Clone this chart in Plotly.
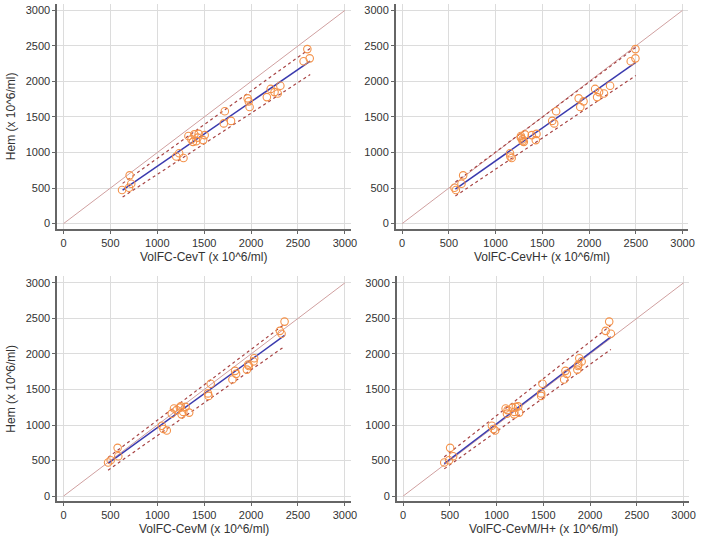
import plotly.graph_objects as go

# ---------------- data ----------------
hem = [473, 505, 560, 679, 922, 945, 990, 1150, 1160, 1175, 1185, 1210, 1232, 1245, 1255,
       1262, 1410, 1445, 1580, 1640, 1720, 1762, 1780, 1830, 1850, 1895, 1940, 2285, 2325, 2455]

cev_t = [624, 698, 722, 705, 1279, 1202, 1233, 1380, 1415, 1489, 1364, 1430, 1332, 1505, 1395,
         1441, 1709, 1786, 1720, 1984, 1975, 1963, 2168, 2284, 2250, 2209, 2312, 2560, 2625, 2600]

cev_hplus = [575, 560, 635, 653, 1172, 1158, 1154, 1302, 1290, 1430, 1288, 1270, 1271, 1387, 1313,
             1437, 1627, 1606, 1648, 1906, 1941, 1889, 2086, 2160, 2107, 2065, 2225, 2446, 2496, 2496]

cev_m = [475, 503, 584, 577, 1101, 1066, 1048, 1259, 1154, 1340, 1277, 1206, 1178, 1241, 1301,
         1250, 1547, 1540, 1569, 1801, 1840, 1829, 1955, 1975, 1969, 2026, 2033, 2325, 2307, 2357]

cev_mhplus = [440, 492, 535, 503, 985, 967, 950, 1189, 1111, 1242, 1190, 1118, 1097, 1171, 1206,
              1231, 1477, 1477, 1491, 1723, 1752, 1737, 1864, 1870, 1875, 1910, 1885, 2223, 2167, 2205]

x_labels = ["VolFC-CevT (x 10^6/ml)", "VolFC-CevH+ (x 10^6/ml)",
            "VolFC-CevM (x 10^6/ml)", "VolFC-CevM/H+ (x 10^6/ml)"]
y_label = "Hem (x 10^6/ml)"

# regression line and band end points per panel: x ends, fit y, upper y, lower y
fit_x = [[630, 2630], [570, 2500], [475, 2357], [440, 2223]]
fit_y = [[470, 2287], [485, 2270], [459, 2260], [457, 2240]]
upper_y = [[566, 2465], [584, 2480], [543, 2420], [551, 2403]]
lower_y = [[374, 2097], [388, 2083], [365, 2106], [383, 2063]]

identity = [0, 3000]
tick_vals = [0, 500, 1000, 1500, 2000, 2500, 3000]

# ---------------- figure ----------------
W, H = 708, 542
# pixel boxes of the four plot areas
px_x = [(58, 354), (400, 695), (58, 354), (401, 696)]
px_y = [(4, 229), (4, 229), (277, 502), (277, 502)]
xtitle_y = [257, 257, 530, 530]
ytitle_x = 11


def fx(p):
    return p / W


def fy(p):
    return 1 - p / H


fig = go.Figure()
xs_all = [cev_t, cev_hplus, cev_m, cev_mhplus]

for i in range(4):
    xa = "x" if i == 0 else f"x{i+1}"
    ya = "y" if i == 0 else f"y{i+1}"
    fig.add_trace(go.Scatter(x=identity, y=identity, mode="lines",
                             line=dict(color="#d0a0a0", width=1),
                             xaxis=xa, yaxis=ya, showlegend=False, hoverinfo="skip"))
    fig.add_trace(go.Scatter(x=fit_x[i], y=upper_y[i], mode="lines",
                             line=dict(color="#a84444", width=1.2, dash="dot"),
                             xaxis=xa, yaxis=ya, showlegend=False, hoverinfo="skip"))
    fig.add_trace(go.Scatter(x=fit_x[i], y=lower_y[i], mode="lines",
                             line=dict(color="#a84444", width=1.2, dash="dot"),
                             xaxis=xa, yaxis=ya, showlegend=False, hoverinfo="skip"))
    fig.add_trace(go.Scatter(x=fit_x[i], y=fit_y[i], mode="lines",
                             line=dict(color="#3a3aae", width=1.5),
                             xaxis=xa, yaxis=ya, showlegend=False, hoverinfo="skip"))
    fig.add_trace(go.Scatter(x=xs_all[i], y=hem, mode="markers",
                             marker=dict(symbol="circle-open", size=7.5,
                                         color="#f4924a", line=dict(width=1.1)),
                             xaxis=xa, yaxis=ya, showlegend=False))

FONT = "Liberation Sans, Arial, sans-serif"
font_tick = dict(family=FONT, size=11, color="#333333")
font_title = dict(family=FONT, size=12, color="#333333")

layout = dict(width=W, height=H, margin=dict(l=0, r=0, t=0, b=0),
              plot_bgcolor="white", paper_bgcolor="white")

annotations = []
for i in range(4):
    xk = "xaxis" if i == 0 else f"xaxis{i+1}"
    yk = "yaxis" if i == 0 else f"yaxis{i+1}"
    ya = "y" if i == 0 else f"y{i+1}"
    xa = "x" if i == 0 else f"x{i+1}"
    x0, x1 = px_x[i]
    y0, y1 = px_y[i]
    layout[xk] = dict(domain=[fx(x0), fx(x1)], anchor=ya, range=[-65, 3060],
                      tickvals=tick_vals, showgrid=True, gridcolor="#dcdcdc", gridwidth=1,
                      zeroline=False, showline=True, linecolor="#666666", linewidth=2,
                      ticks="outside", ticklen=3, tickcolor="#666666", tickfont=font_tick,
                      ticklabeloverflow="allow")
    layout[yk] = dict(domain=[fy(y1), fy(y0)], anchor=xa, range=[-70, 3090],
                      tickvals=tick_vals, showgrid=True, gridcolor="#dcdcdc", gridwidth=1,
                      zeroline=False, showline=True, linecolor="#666666", linewidth=2,
                      ticks="outside", ticklen=3, tickcolor="#666666", tickfont=font_tick,
                      ticklabeloverflow="allow")
    annotations.append(dict(text=x_labels[i], xref="paper", yref="paper",
                            x=fx((x0 + x1) / 2), y=fy(xtitle_y[i]),
                            xanchor="center", yanchor="middle", showarrow=False,
                            font=font_title))
    if i in (0, 2):
        annotations.append(dict(text=y_label, xref="paper", yref="paper",
                                x=fx(ytitle_x), y=fy((y0 + y1) / 2), textangle=-90,
                                xanchor="center", yanchor="middle", showarrow=False,
                                font=font_title))

layout["annotations"] = annotations
fig.update_layout(**layout)
fig.write_html("out.html", config={"displayModeBar": False},
               post_script="document.body.style.margin='0';document.body.style.overflow='hidden';")
